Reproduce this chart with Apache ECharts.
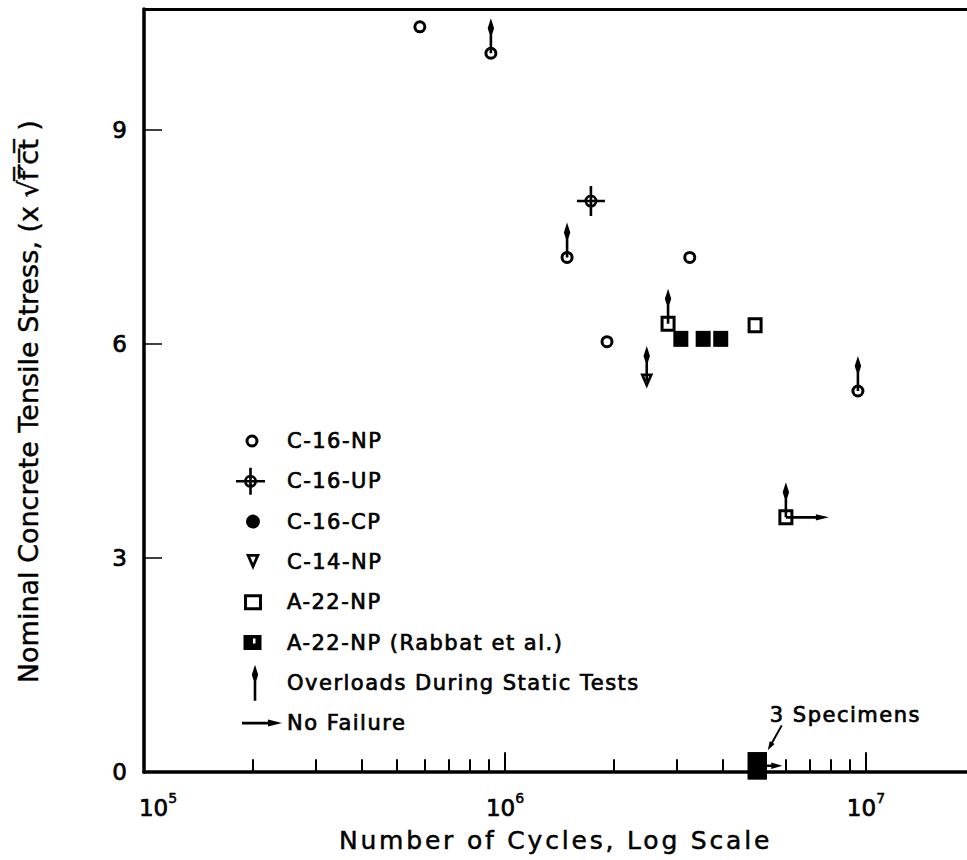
<!DOCTYPE html>
<html>
<head>
<meta charset="utf-8">
<script src="https://cdn.jsdelivr.net/npm/echarts@6/dist/echarts.min.js"></script>
<style>
html,body{margin:0;padding:0;background:#fff;}
#main{width:967px;height:860px;}
#main text[style*="21px"]{letter-spacing:1.5px;}
#main text[style*="25px"]{letter-spacing:2.8px;}
</style>
</head>
<body>
<div id="main"></div>
<script>
// ---------------- data ----------------
const c16npX = [5.81e5, 9.14e5, 1.486e6, 1.917e6, 3.25e6, 9.5e6];
const c16npY = [10.44, 10.07, 7.21, 6.03, 7.21, 5.34];
const c16upX = [1.73e6];
const c16upY = [8.0];
const c16cpX = [];
const c16cpY = [];
const c14npX = [2.47e6];
const c14npY = [5.48];
const a22npX = [2.83e6, 4.93e6, 6.0e6];
const a22npY = [6.28, 6.26, 3.57];
const rabbatX = [3.07e6, 3.54e6, 3.96e6];
const rabbatY = [6.07, 6.07, 6.07];
const rabbatZeroX = [5.0e6, 5.0e6, 5.0e6];   // 3 specimens
const rabbatZeroY = [0.09, 0.09, 0.09];
const overloadX = [9.14e5, 1.486e6, 2.47e6, 2.83e6, 6.0e6, 9.5e6];
const overloadY = [10.07, 7.21, 5.48, 6.28, 3.57, 5.34];
const noFailX = [6.0e6];
const noFailY = [3.57];
const noFailZeroX = [5.0e6];
const noFailZeroY = [0.09];
const xLabelTicks = [1e5, 1e6, 1e7];
const xMajorTicks = [1e6, 1e7];
const xMinorTicks = [2e5, 3e5, 4e5, 5e5, 6e5, 7e5, 8e5, 9e5, 2e6, 3e6, 4e6, 5e6, 6e6, 7e6, 8e6, 9e6];
const yLabelTicks = [0, 3, 6, 9];
const yInnerTicks = [3, 6, 9];
const legendNames = ['C-16-NP', 'C-16-UP', 'C-16-CP', 'C-14-NP', 'A-22-NP',
  'A-22-NP (Rabbat et al.)', 'Overloads During Static Tests', 'No Failure'];
const annotationText = '3 Specimens';
const xTitle = 'Number of Cycles, Log Scale';
const yTitle = 'Nominal Concrete Tensile Stress, (x \u221Af\u0305\u2032\u0305c\u0305t\u0305 )';

// ---------------- styling ----------------
const FONT = 'DejaVu Sans';
const pts = (xs, ys) => xs.map((x, i) => [x, ys[i]]);
const INK = { color: '#000', textBorderColor: '#000', fontFamily: FONT };

const SYM = {
  ring: 'path://M6.5 0A6.5 6.5 0 1 1 6.5 13A6.5 6.5 0 1 1 6.5 0ZM6.5 3A3.5 3.5 0 1 0 6.5 10A3.5 3.5 0 1 0 6.5 3Z',
  cross: 'path://M14 8.5A6.5 6.5 0 1 1 14 21.5A6.5 6.5 0 1 1 14 8.5ZM14 11.2A3.8 3.8 0 1 0 14 18.8A3.8 3.8 0 1 0 14 11.2ZM0 13.7H28V16.3H0ZM12.7 0H15.3V30H12.7Z',
  tri: 'path://M0 0H13L6.5 15ZM4.11 2.7L6.5 8.22L8.89 2.7Z',
  sq: 'path://M0 0H15V16H0ZM3 3V13H12V3Z',
  up: 'path://M3.2 0L6.4 10L4.5 16V35H1.9V16L0 10Z',
  rightLong: 'path://M0 1.9H30V0L43 3.2L30 6.4V4.5H0Z',
  rightShort: 'path://M0 1.9H14V0L25 3.2L14 6.4V4.5H0Z',
  leader: 'path://M14.13 -0.49L15.87 0.49L6.27 17.64L7.84 18.52L1 25L2.96 15.78L4.53 16.66Z'
};
const F = 'path://M0 0M46 36';
const LEGICON = [
  F + 'M16 11.5A6.5 6.5 0 1 1 16 24.5A6.5 6.5 0 1 1 16 11.5ZM16 14.5A3.5 3.5 0 1 0 16 21.5A3.5 3.5 0 1 0 16 14.5Z',
  F + 'M14.5 11.5A6.5 6.5 0 1 1 14.5 24.5A6.5 6.5 0 1 1 14.5 11.5ZM14.5 14.2A3.8 3.8 0 1 0 14.5 21.8A3.8 3.8 0 1 0 14.5 14.2ZM0 16.7H29V19.3H0ZM13.2 4.5H15.8V31.5H13.2Z',
  F + 'M17 11A7 7 0 1 1 17 25A7 7 0 1 1 17 11Z',
  F + 'M10 10H24L17 26ZM14.3 12.8L17 19L19.7 12.8Z',
  F + 'M8 10H26V26H8ZM11 13V23H23V13Z',
  F + 'M7.5 10.5H25.5V25.5H7.5ZM17 14V19H19.5V14Z',
  F + 'M19 0L22.2 10L20.3 16V36H17.7V16L15.8 10Z',
  F + 'M46 18L32 21.5V19.3H6V16.7H32V14.5Z'
];

const black = { color: '#000', borderWidth: 0, opacity: 1 };
const base = { type: 'scatter', xAxisIndex: 0, yAxisIndex: 0, silent: true,
  emphasis: { disabled: true }, itemStyle: black, z: 3 };

const xCommon = { type: 'log', logBase: 10, min: 1e5, max: 1.905e7, gridIndex: 0,
  splitLine: { show: false } };

const option = {
  animation: false,
  backgroundColor: '#fff',
  textStyle: { fontFamily: FONT, color: '#000' },
  grid: { left: 144, right: 0, top: 9, bottom: 85 },
  legend: {
    orient: 'vertical', left: 236, top: 423, padding: 0,
    itemWidth: 46, itemHeight: 36, itemGap: 4.3, selectedMode: false,
    textStyle: Object.assign({ fontSize: 21, textBorderWidth: 0.7 }, INK),
    data: legendNames.map((n, i) => ({ name: n, icon: LEGICON[i],
      itemStyle: { color: '#000', borderWidth: 0, opacity: 1 } }))
  },
  xAxis: [
    Object.assign({}, xCommon, {
      position: 'bottom',
      axisLine: { show: true, onZero: false, lineStyle: { color: '#000', width: 3.5 } },
      axisTick: { show: true, inside: true, length: 20, customValues: xMajorTicks, lineStyle: { color: '#000', width: 2 } },
      axisLabel: {
        show: true, customValues: xLabelTicks, margin: 19,
        formatter: v => { const e = Math.round(Math.log10(v)); return (e === 5 ? '{p| }' : '') + '{b|10}{s|' + e + '}'; },
        rich: {
          b: Object.assign({ fontSize: 23, lineHeight: 34, textBorderWidth: 0.7 }, INK),
          s: Object.assign({ fontSize: 14, lineHeight: 12, verticalAlign: 'top', textBorderWidth: 0.5 }, INK),
          p: { width: 28, fontSize: 14 }
        }
      },
      name: xTitle, nameLocation: 'middle', nameGap: 40,
      nameTextStyle: Object.assign({ fontSize: 25, lineHeight: 30, textBorderWidth: 0.5 }, INK)
    }),
    Object.assign({}, xCommon, {
      position: 'top',
      axisLine: { show: true, onZero: false, lineStyle: { color: '#000', width: 3 } },
      axisTick: { show: false }, axisLabel: { show: false }
    }),
    Object.assign({}, xCommon, {
      position: 'bottom',
      axisLine: { show: false, onZero: false },
      axisTick: { show: true, inside: true, length: 13, customValues: xMinorTicks, lineStyle: { color: '#000', width: 2 } },
      axisLabel: { show: false }
    })
  ],
  yAxis: {
    type: 'value', min: 0, max: 10.69,
    splitLine: { show: false },
    axisLine: { show: true, onZero: false, lineStyle: { color: '#000', width: 3.5 } },
    axisTick: { show: true, inside: true, length: 18, customValues: yInnerTicks, lineStyle: { color: '#000', width: 1.5 } },
    axisLabel: Object.assign({ show: true, customValues: yLabelTicks, margin: 17, fontSize: 23, textBorderWidth: 0.7 }, INK),
    name: yTitle, nameLocation: 'middle', nameRotate: 90, nameGap: 100,
    nameTextStyle: Object.assign({ fontSize: 27, lineHeight: 32, padding: [0, 22, 0, 0], textBorderWidth: 0.4 }, INK)
  },
  series: [
    Object.assign({}, base, { name: 'Overloads During Static Tests', data: pts(overloadX, overloadY),
      symbol: SYM.up, symbolSize: [6.4, 35], symbolOffset: [0, -17.5] }),
    Object.assign({}, base, { name: 'No Failure', data: pts(noFailX, noFailY),
      symbol: SYM.rightLong, symbolSize: [43, 6.4], symbolOffset: [21.5, 0] }),
    Object.assign({}, base, { name: 'No Failure', data: pts(noFailZeroX, noFailZeroY),
      symbol: SYM.rightShort, symbolSize: [25, 6.4], symbolOffset: [12.5, 0] }),
    Object.assign({}, base, { name: 'C-16-NP', data: pts(c16npX, c16npY), symbol: SYM.ring, symbolSize: [13, 13] }),
    Object.assign({}, base, { name: 'C-16-UP', data: pts(c16upX, c16upY), symbol: SYM.cross, symbolSize: [28, 30] }),
    Object.assign({}, base, { name: 'C-16-CP', data: pts(c16cpX, c16cpY), symbol: 'circle', symbolSize: 14 }),
    Object.assign({}, base, { name: 'C-14-NP', data: pts(c14npX, c14npY), symbol: SYM.tri, symbolSize: [13, 15] }),
    Object.assign({}, base, { name: 'A-22-NP', data: pts(a22npX, a22npY), symbol: SYM.sq, symbolSize: [15, 16] }),
    Object.assign({}, base, { name: 'A-22-NP (Rabbat et al.)', data: pts(rabbatX, rabbatY), symbol: 'rect', symbolSize: [15, 16] }),
    Object.assign({}, base, { name: 'A-22-NP (Rabbat et al.)', data: pts(rabbatZeroX, rabbatZeroY), symbol: 'rect', symbolSize: [19, 27],
      markPoint: {
        silent: true, symbol: SYM.leader, symbolSize: [14.87, 25.49], symbolOffset: [17.9, -28.2],
        itemStyle: { color: '#000', opacity: 1 },
        label: Object.assign({ show: true, formatter: annotationText, position: [2, -9.5], align: 'left', verticalAlign: 'middle',
          fontSize: 21, textBorderWidth: 0.7 }, INK),
        data: [{ coord: [rabbatZeroX[0], rabbatZeroY[0]] }]
      }
    })
  ]
};

const chart = echarts.init(document.getElementById('main'), null, { renderer: 'svg' });
chart.setOption(option);
</script>
</body>
</html>
